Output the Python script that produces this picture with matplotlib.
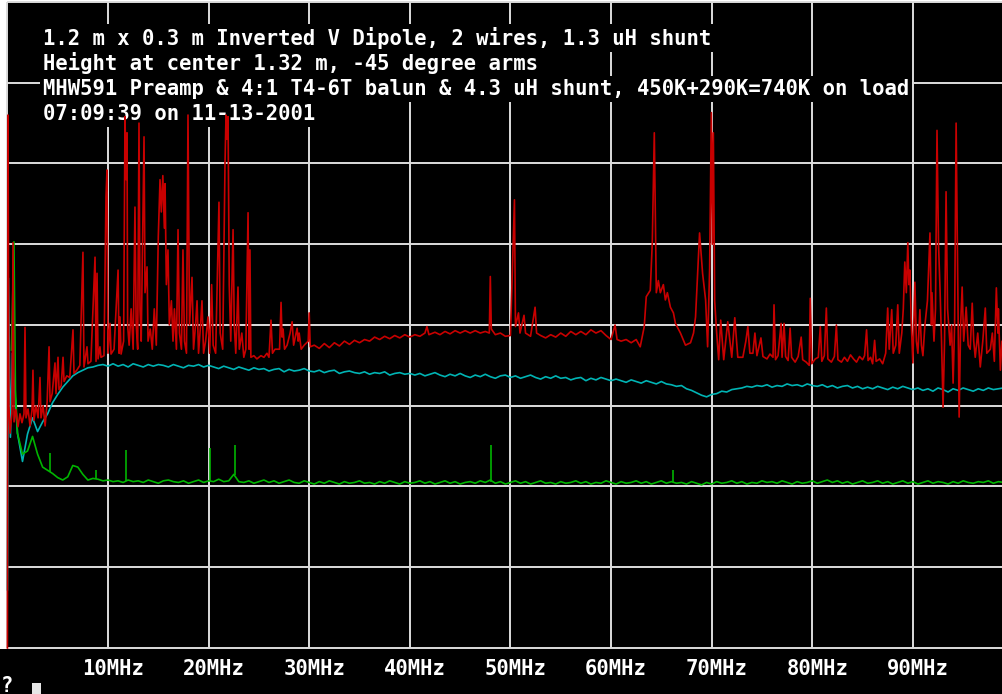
import numpy as np
import matplotlib
matplotlib.use("Agg")
import matplotlib.pyplot as plt
from matplotlib.patches import Rectangle

# ---------------- data ----------------
title_lines = [
    "1.2 m x 0.3 m Inverted V Dipole, 2 wires, 1.3 uH shunt",
    "Height at center 1.32 m, -45 degree arms",
    "MHW591 Preamp & 4:1 T4-6T balun & 4.3 uH shunt, 450K+290K=740K on load",
    "07:09:39 on 11-13-2001",
]
tick_mhz = [10, 20, 30, 40, 50, 60, 70, 80, 90]
tick_labels = ["10MHz", "20MHz", "30MHz", "40MHz", "50MHz", "60MHz", "70MHz", "80MHz", "90MHz"]
grid_db = [-80, -70, -60, -50, -40, -30, -20, -10, 0]

# red trace (antenna signal), MHz / dB
red_f = [0.00, 0.06, 0.15, 0.26, 0.45, 0.56, 0.66, 0.85, 1.05, 1.25, 1.45, 1.65, 1.75, 1.85, 2.05, 2.25,
         2.45, 2.54, 2.64, 2.85, 3.05, 3.24, 3.34, 3.55, 3.75, 3.95, 4.14, 4.24, 4.45, 4.73, 4.83, 5.03,
         5.13, 5.35, 5.53, 5.63, 5.90, 6.20, 6.52, 6.62, 6.90, 7.20, 7.51, 7.61, 7.91, 8.01, 8.30, 8.71,
         8.81, 8.91, 9.01, 9.20, 9.30, 9.60, 9.80, 9.90, 10.0, 10.2, 10.3, 10.6, 11.0, 11.1, 11.19, 11.3,
         11.55, 11.69, 11.79, 11.89, 11.95, 12.1, 12.3, 12.5, 12.68, 12.8, 12.95, 13.08, 13.18, 13.3, 13.58, 13.68,
         13.88, 13.98, 14.2, 14.4, 14.6, 14.8, 15.0, 15.17, 15.3, 15.45, 15.6, 15.67, 15.8, 15.96, 16.1, 16.3,
         16.46, 16.6, 16.8, 16.96, 17.1, 17.3, 17.45, 17.6, 17.8, 17.95, 18.1, 18.35, 18.5, 18.7, 18.85, 19.0,
         19.2, 19.34, 19.5, 19.7, 19.94, 20.1, 20.3, 20.45, 20.7, 21.03, 21.15, 21.4, 21.63, 21.73, 21.83, 21.93,
         22.05, 22.2, 22.43, 22.55, 22.7, 22.92, 23.05, 23.3, 23.5, 23.7, 23.92, 24.02, 24.11, 24.2, 24.5, 24.8,
         25.2, 25.5, 25.8, 26.0, 26.2, 26.35, 26.6, 27.05, 27.2, 27.3, 27.4, 27.55, 27.8, 28.1, 28.3, 28.45,
         28.8, 28.9, 29.0, 29.2, 29.5, 29.9, 30.0, 30.1, 30.5, 31.0, 31.5, 32.0, 32.5, 33.0, 33.5, 34.0,
         34.5, 35.0, 35.5, 36.0, 36.5, 37.0, 37.5, 38.0, 38.5, 39.0, 39.5, 40.0, 40.5, 41.0, 41.5, 41.7,
         41.9, 42.5, 43.0, 43.5, 44.0, 44.5, 45.0, 45.5, 46.0, 46.5, 47.0, 47.5, 47.9, 48.0, 48.1, 48.5,
         49.0, 49.5, 50.0, 50.4, 50.5, 50.8, 50.95, 51.35, 51.5, 52.0, 52.45, 52.6, 53.0, 53.5, 54.0, 54.5,
         55.0, 55.5, 56.0, 56.5, 57.0, 57.5, 58.0, 58.5, 59.0, 59.5, 60.0, 60.4, 60.6, 61.0, 61.5, 62.0,
         62.5, 62.9, 63.3, 63.5, 63.9, 64.1, 64.3, 64.5, 64.7, 64.9, 65.2, 65.4, 65.6, 65.9, 66.2, 66.4,
         66.9, 67.4, 67.9, 68.2, 68.4, 68.8, 69.1, 69.4, 69.6, 69.8, 69.97, 70.07, 70.17, 70.3, 70.5, 70.7,
         70.9, 71.2, 71.6, 72.0, 72.3, 72.6, 73.1, 73.4, 73.6, 73.8, 74.1, 74.3, 74.5, 74.9, 75.1, 75.5,
         75.8, 76.1, 76.2, 76.35, 76.6, 76.9, 77.0, 77.2, 77.35, 77.6, 77.8, 77.95, 78.3, 78.6, 78.9, 79.05,
         79.4, 79.7, 79.8, 79.95, 80.3, 80.6, 80.8, 80.95, 81.2, 81.4, 81.55, 81.9, 82.2, 82.4, 82.55, 82.9,
         83.2, 83.5, 83.8, 84.1, 84.4, 84.7, 85.0, 85.2, 85.4, 85.55, 85.8, 86.0, 86.2, 86.35, 86.7, 87.0,
         87.3, 87.5, 87.65, 87.9, 88.05, 88.3, 88.5, 88.65, 88.9, 89.05, 89.2, 89.35, 89.5, 89.6, 89.7, 89.85,
         90.0, 90.2, 90.35, 90.5, 90.7, 90.85, 91.0, 91.2, 91.45, 91.7, 91.85, 91.9, 92.1, 92.25, 92.4, 92.55,
         92.7, 92.85, 93.0, 93.15, 93.3, 93.45, 93.7, 93.85, 94.0, 94.15, 94.3, 94.42, 94.5, 94.6, 94.75, 94.9,
         95.05, 95.3, 95.5, 95.7, 95.9, 96.05, 96.2, 96.45, 96.7, 96.95, 97.2, 97.35, 97.7, 97.9, 98.1, 98.3,
         98.45, 98.5, 98.7, 98.85, 99.0]
red_db = [-80.0, -14.0, -50.0, -53.4, -51.0, -29.8, -52.0, -50.5, -52.6, -51.0, -52.1, -51.0, -40.3, -51.5, -50.4, -52.5,
          -50.5, -45.6, -51.8, -50.0, -51.5, -46.5, -51.5, -50.0, -52.5, -49.5, -42.7, -49.5, -48.5, -44.7, -48.5, -44.0,
          -48.0, -47.5, -44.0, -47.0, -46.3, -46.5, -40.6, -46.0, -45.6, -45.0, -31.0, -45.2, -42.7, -44.8, -44.5, -31.6,
          -44.5, -33.6, -44.2, -42.7, -44.0, -43.8, -24.1, -20.8, -43.5, -39.8, -43.6, -43.0, -33.2, -43.5, -39.0, -43.6,
          -42.0, -14.2, -22.0, -16.2, -40.0, -42.5, -38.0, -43.0, -25.4, -40.0, -43.0, -15.0, -38.0, -42.0, -16.7, -36.0,
          -32.8, -42.0, -40.5, -43.0, -38.0, -42.5, -29.0, -22.0, -26.0, -21.5, -28.0, -22.5, -35.0, -30.7, -40.0, -37.0,
          -42.0, -38.0, -43.0, -28.2, -41.0, -43.0, -30.7, -42.0, -43.5, -14.0, -40.0, -34.1, -43.0, -40.0, -37.0, -43.5,
          -40.0, -37.0, -43.5, -42.0, -39.0, -43.5, -35.0, -42.5, -43.5, -24.8, -41.0, -43.0, -20.0, -14.0, -17.0, -14.2,
          -35.0, -42.0, -28.2, -40.0, -43.5, -35.3, -43.0, -41.0, -44.0, -43.0, -26.1, -43.0, -30.7, -44.0, -43.8, -44.2,
          -43.8, -44.0, -43.5, -44.0, -39.4, -43.5, -43.0, -43.0, -37.2, -41.5, -40.5, -43.0, -42.5, -41.0, -39.6, -42.5,
          -40.4, -42.0, -41.0, -43.0, -42.5, -42.0, -38.5, -42.7, -42.5, -42.9, -42.3, -42.8, -42.2, -42.6, -42.0, -42.4,
          -41.9, -42.2, -41.8, -42.0, -41.5, -41.8, -41.4, -41.7, -41.3, -41.6, -41.2, -41.5, -41.2, -41.4, -41.0, -40.2,
          -41.2, -40.9, -41.2, -40.8, -41.1, -40.7, -41.0, -40.7, -41.0, -40.7, -41.0, -40.8, -41.0, -34.0, -40.5, -41.2,
          -41.0, -41.4, -41.3, -24.5, -40.2, -38.5, -41.0, -38.8, -41.0, -41.4, -37.8, -41.0, -41.3, -41.6, -41.2, -41.5,
          -41.0, -41.4, -40.8, -41.2, -40.8, -41.2, -40.6, -41.0, -40.7, -41.3, -41.8, -40.0, -41.8, -42.0, -41.8, -42.2,
          -41.8, -42.7, -40.2, -36.5, -35.7, -29.8, -16.2, -36.0, -34.5, -36.0, -35.0, -36.9, -36.0, -37.8, -38.5, -39.8,
          -41.0, -42.5, -42.2, -41.0, -39.0, -28.6, -33.6, -36.9, -42.7, -33.0, -13.7, -30.0, -16.2, -37.0, -41.0, -44.3,
          -39.4, -44.3, -39.6, -44.0, -39.1, -44.0, -44.0, -42.0, -40.2, -43.5, -43.5, -41.0, -43.8, -41.6, -43.9, -44.2,
          -43.6, -44.0, -37.5, -44.3, -43.8, -39.8, -44.0, -39.8, -43.9, -44.4, -40.4, -44.0, -44.6, -43.9, -41.5, -44.3,
          -44.6, -45.0, -36.7, -44.8, -44.2, -44.0, -40.2, -44.5, -43.8, -37.9, -44.2, -44.6, -43.9, -40.0, -44.3, -44.6,
          -44.0, -44.5, -43.7, -44.2, -44.6, -43.9, -44.3, -43.8, -40.6, -44.4, -44.0, -44.8, -41.9, -44.5, -44.2, -44.8,
          -43.5, -37.9, -43.0, -38.1, -43.5, -42.5, -37.5, -43.5, -41.0, -38.0, -32.2, -36.0, -29.8, -35.0, -33.2, -40.0,
          -44.7, -34.7, -42.0, -43.5, -38.1, -42.5, -43.8, -40.0, -37.0, -28.6, -40.0, -36.0, -42.0, -38.0, -15.9, -30.0,
          -35.5, -42.0, -50.2, -42.0, -23.5, -38.0, -42.5, -40.0, -47.2, -40.0, -15.0, -30.0, -41.0, -51.4, -40.0, -35.3,
          -42.0, -37.8, -42.5, -43.0, -37.3, -42.0, -44.0, -41.0, -45.2, -42.0, -37.9, -43.5, -43.0, -41.0, -44.5, -35.4,
          -41.0, -38.0, -45.6, -42.0, -44.0]

# cyan trace, MHz / dB
cyan_f = [0.0, 0.1, 0.3] + [0.5 * k for k in range(1, 199)]
cyan_db = [-72.8, -34.2, -53.9,
           -43.5, -53.4, -56.9, -53.5, -51.5, -53.2, -52.0, -51.0, -49.6, -48.6,
           -47.7, -47.0, -46.3, -45.9, -45.6, -45.3, -45.2, -45.0, -44.9, -45.1,
           -44.8, -45.1, -44.9, -45.2, -44.8, -45.0, -45.2, -44.9, -45.1, -44.9,
           -45.0, -45.2, -44.9, -45.1, -45.3, -45.0, -45.1, -44.9, -45.2, -45.0,
           -45.2, -45.4, -45.1, -45.3, -45.5, -45.2, -45.4, -45.6, -45.3, -45.5,
           -45.4, -45.7, -45.5, -45.4, -45.8, -45.5, -45.7, -45.6, -45.4, -45.7,
           -45.8, -45.6, -45.9, -45.7, -45.6, -46.0, -45.8, -45.7, -45.9, -46.0,
           -45.8, -46.1, -45.9, -46.0, -45.8, -46.2, -46.0, -45.9, -46.1, -46.0,
           -46.2, -46.0, -46.3, -46.1, -45.9, -46.2, -46.4, -46.1, -46.3, -46.0,
           -46.3, -46.5, -46.2, -46.4, -46.1, -46.4, -46.6, -46.3, -46.2, -46.5,
           -46.3, -46.6, -46.4, -46.2, -46.5, -46.7, -46.4, -46.6, -46.3, -46.6,
           -46.5, -46.8, -46.6, -46.5, -46.9, -46.6, -46.8, -46.5, -46.7, -46.9,
           -46.7, -46.9, -47.1, -46.8, -47.0, -47.2, -46.9, -47.1, -47.3, -47.0,
           -47.3, -47.4, -47.6, -47.5, -47.9, -48.1, -48.4, -48.7, -48.9, -48.6,
           -48.5, -48.2, -48.3, -48.0, -47.9, -47.8, -47.6, -47.7, -47.5, -47.6,
           -47.4, -47.7, -47.5, -47.6, -47.3, -47.5, -47.4, -47.6, -47.3, -47.5,
           -47.6, -47.4, -47.7, -47.5, -47.8, -47.6, -47.5, -47.8, -47.6, -47.9,
           -47.7, -47.9, -47.6, -47.8, -48.0, -47.7, -47.9, -47.6, -47.8, -48.0,
           -47.8, -48.1, -47.9, -48.2, -47.8, -48.0, -48.3, -47.9, -48.1, -47.8,
           -48.0, -48.2, -47.9, -48.1, -47.8, -48.0, -47.9, -47.8]

# green trace, MHz / dB
green_f = [0.4, 0.65, 0.8] + [0.5 * k for k in range(2, 199)]
green_db = [-43.1, -29.7, -48.0,
            -53.4, -56.0, -55.6, -53.8, -56.0, -57.6, -58.0, -58.4, -58.9, -59.2,
            -58.8, -57.4, -57.6, -58.5, -59.2, -59.0, -59.1, -59.3, -59.2, -59.4,
            -59.3, -59.5, -59.2, -59.4, -59.3, -59.5, -59.2, -59.4, -59.6, -59.3,
            -59.2, -59.4, -59.5, -59.3, -59.6, -59.4, -59.2, -59.5, -59.3, -59.4,
            -59.1, -59.4, -59.3, -58.5, -59.4, -59.5, -59.3, -59.6, -59.4, -59.2,
            -59.5, -59.3, -59.6, -59.4, -59.2, -59.5, -59.6, -59.3, -59.5, -59.7,
            -59.4, -59.6, -59.3, -59.5, -59.7, -59.4, -59.6, -59.5, -59.3, -59.6,
            -59.5, -59.7, -59.4, -59.6, -59.3, -59.5, -59.7, -59.4, -59.6, -59.5,
            -59.3, -59.6, -59.4, -59.7, -59.5, -59.3, -59.6, -59.4, -59.7, -59.5,
            -59.4, -59.6, -59.3, -59.5, -59.2, -59.6, -59.4, -59.7, -59.5, -59.3,
            -59.6, -59.4, -59.7, -59.5, -59.3, -59.6, -59.5, -59.7, -59.4, -59.6,
            -59.5, -59.3, -59.6, -59.4, -59.7, -59.5, -59.6, -59.3, -59.5, -59.7,
            -59.4, -59.6, -59.5, -59.3, -59.6, -59.4, -59.7, -59.5, -59.3, -59.6,
            -59.4, -59.6, -59.5, -59.7, -59.4, -59.6, -59.8, -59.5, -59.7, -59.4,
            -59.6, -59.5, -59.3, -59.6, -59.4, -59.7, -59.5, -59.6, -59.3, -59.5,
            -59.4, -59.6, -59.3, -59.5, -59.7, -59.4, -59.6, -59.5, -59.3, -59.6,
            -59.4, -59.2, -59.5, -59.3, -59.6, -59.4, -59.7, -59.5, -59.3, -59.6,
            -59.5, -59.3, -59.6, -59.4, -59.7, -59.5, -59.3, -59.6, -59.4, -59.7,
            -59.5, -59.3, -59.6, -59.4, -59.5, -59.7, -59.4, -59.6, -59.3, -59.5,
            -59.6, -59.4, -59.5, -59.3, -59.6, -59.4, -59.5]
green_spike_f = [4.2, 8.8, 11.8, 20.1, 22.6, 48.1, 66.2]
green_spike_base = [-58.2, -59.1, -59.3, -59.3, -58.6, -59.4, -59.5]
green_spike_top = [-55.9, -58.0, -55.5, -55.2, -54.9, -54.9, -58.0]

# ---------------- drawing ----------------
W, H = 1003, 694
fig = plt.figure(figsize=(W / 100, H / 100), dpi=100, facecolor="black")
ax = fig.add_axes([0, 0, 1, 1])
ax.set_axis_off()
X0, X1 = -0.7356, 98.96
Y0, Y1 = -85.70, 0.248
ax.set_xlim(X0, X1)
ax.set_ylim(Y0, Y1)

# white border strips of the window
ax.add_patch(Rectangle((X0, -80.1), -0.04 - X0, Y1 + 80.1, fc="white", ec="none", zorder=0.5))
ax.add_patch(Rectangle((X0, 0.0), X1 - X0, Y1, fc="white", ec="none", zorder=0.5))

grid_col = "#dcdcdc"
ax.vlines([0] + tick_mhz, -80, 0, colors=grid_col, lw=1.4, zorder=1)
ax.hlines(grid_db, 0, X1 + 1, colors=grid_col, lw=1.4, zorder=1)

mono = dict(family="DejaVu Sans Mono", weight="bold", size=14.8, color="white")
baselines = [-5.33, -8.42, -11.52, -14.67]
for s, yb in zip(title_lines, baselines):
    ax.text(3.54, yb, s, ha="left", va="baseline", zorder=2,
            bbox=dict(boxstyle="square,pad=0.14", fc="black", ec="none"), **mono)

for f, lab in zip(tick_mhz, tick_labels):
    ax.text(f + 0.5, -83.34, lab, ha="center", va="baseline", zorder=2, **mono)

ax.plot(cyan_f, cyan_db, color="#00b4b4", lw=1.2, zorder=3)
ax.plot(green_f, green_db, color="#00b400", lw=1.2, zorder=3.1)
ax.vlines(green_spike_f, green_spike_base, green_spike_top, colors="#00b400", lw=1.2, zorder=3.1)
ax.plot(red_f, red_db, color="#c80000", lw=1.2, zorder=3.2)

# command prompt at the bottom
ax.text(-0.68, -85.45, "?", ha="left", va="baseline", zorder=2, **mono)
ax.add_patch(Rectangle((2.445, Y0), 0.9, 1.37, fc="#e6e6e6", ec="none", zorder=2))

fig.savefig("out.png", dpi=100, facecolor="black")
